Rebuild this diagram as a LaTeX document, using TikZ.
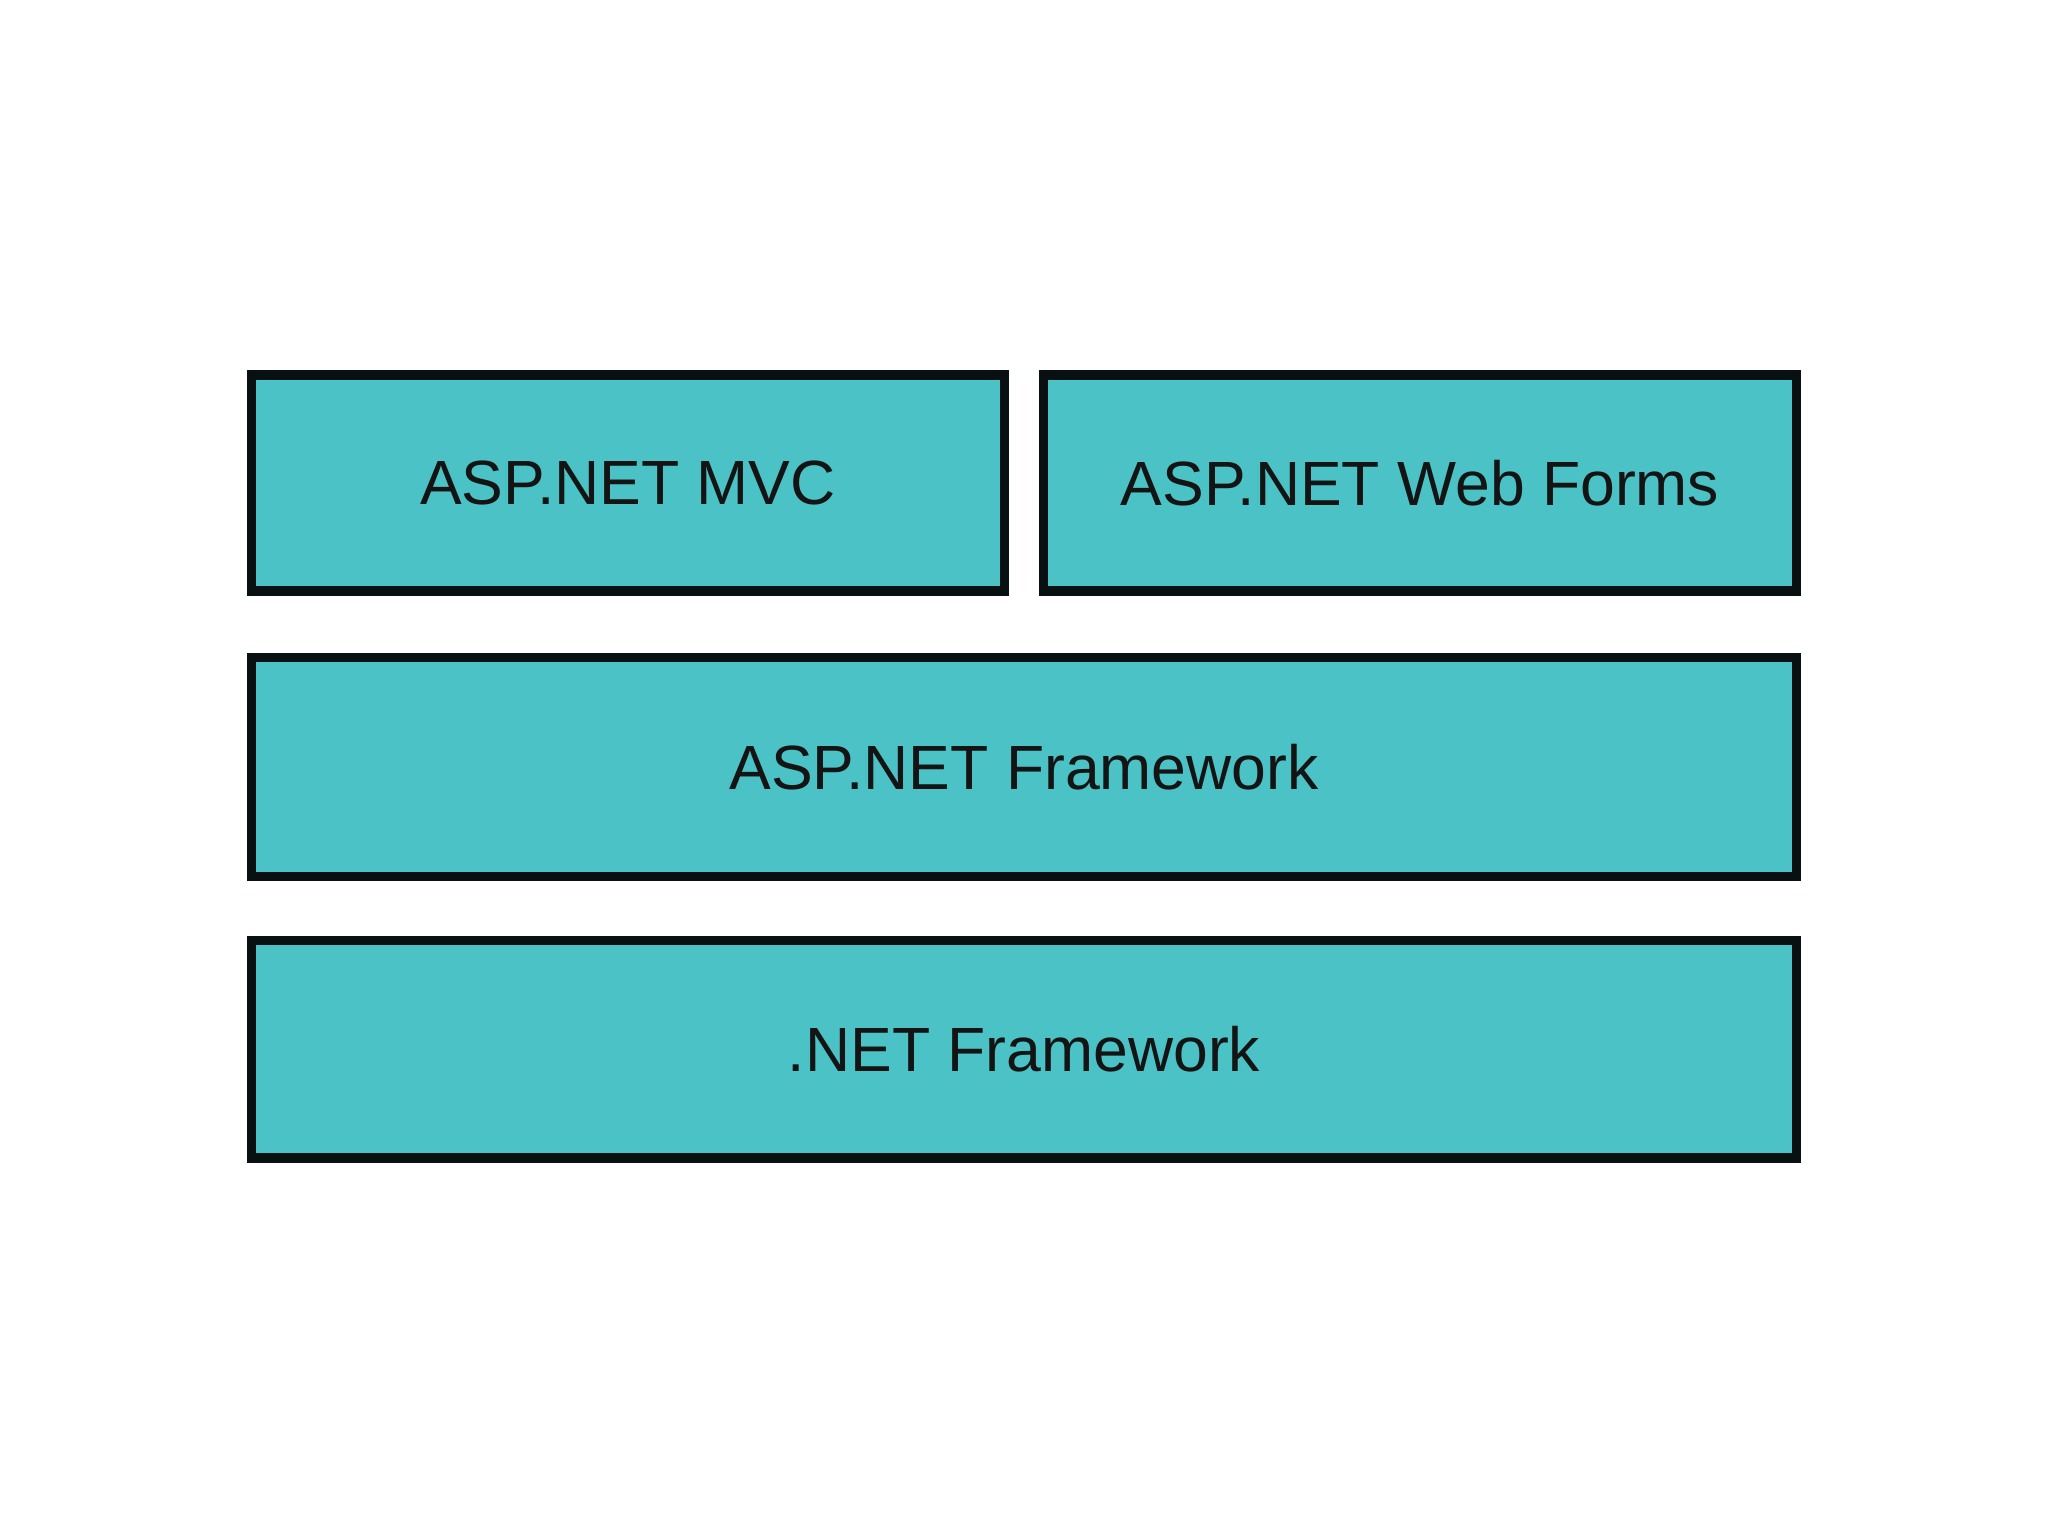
\documentclass[tikz,border=0pt]{standalone}
\usepackage{fontspec}
\setmainfont{Liberation Sans}
\definecolor{tealfill}{RGB}{75,194,198}
\definecolor{edge}{RGB}{8,16,18}
\begin{document}
\begin{tikzpicture}[x=1pt,y=-1pt,
  layer/.style={draw=edge,fill=tealfill,line width=9.5pt,inner sep=0pt,
    font=\fontsize{62.5}{72}\selectfont,text=black!92}]
\useasboundingbox (0,0) rectangle (2048,1536);
\fill[white] (0,0) rectangle (2048,1536);
\node[layer,minimum width=753pt,minimum height=216pt] (mvc) at (628,483) {ASP.NET MVC};
\node[layer,minimum width=753pt,minimum height=216pt] (wf) at (1420,483) {ASP.NET Web Forms};
\node[layer,minimum width=1545pt,minimum height=219pt] (asp) at (1024,767) {ASP.NET Framework};
\node[layer,minimum width=1545pt,minimum height=217.5pt] (net) at (1024,1049.25) {.NET Framework};
\end{tikzpicture}
\end{document}
